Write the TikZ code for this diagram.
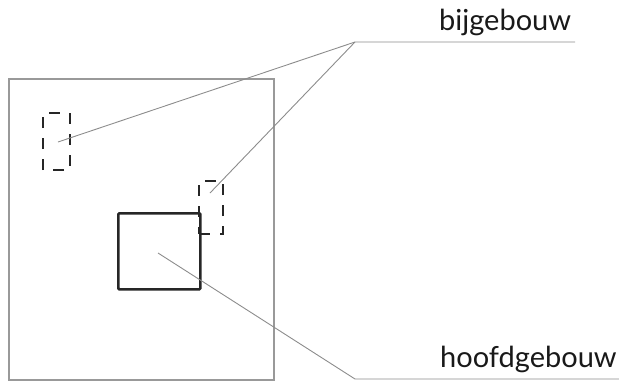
\documentclass[tikz,border=0pt]{standalone}
\usepackage{fontspec}
\setmainfont{Lato}
\begin{document}
\begin{tikzpicture}[x=1pt,y=-1pt,
  site/.style={draw=black!40, line width=1.3pt},
  leader/.style={draw=black!45, line width=0.9pt},
  building/.style={draw=black!85, line width=2.6pt, rounded corners=1pt},
  annex/.style={draw=black!85, line width=2.4pt, dash pattern=on 11pt off 10pt},
  label/.style={font=\fontsize{29}{34}\selectfont, text=black!90, inner sep=0pt, anchor=base west}]
\useasboundingbox (0,0) rectangle (619,383);

% plot boundary
\draw[site] (9,79) rectangle (274,380);

% main building
\node[building, minimum width=82pt, minimum height=76pt, inner sep=0pt, anchor=north west] (hoofd) at (117,212) {};

% annexes (dashed)
\draw[annex] (43,170) -- (43,113) -- (70,113) -- (70,170) -- cycle;
\draw[annex] (199,234) -- (223,234) -- (223,181) -- (199,181) -- cycle;

% labels
\node[label] (bij) at (439,30) {bijgebouw};
\node[label] (hoofdlbl) at (440,367) {hoofdgebouw};

% leader lines
\coordinate (elbowA) at (355,42);
\coordinate (endA) at (575,42);
\coordinate (tipA1) at (58,142);
\coordinate (tipA2) at (210,193);
\coordinate (elbowB) at (355,379);
\coordinate (endB) at (619,379);
\coordinate (tipB) at (158,253);

\draw[leader] (tipA1) -- (elbowA) -- (endA);
\draw[leader] (tipA2) -- (elbowA);
\draw[leader] (tipB) -- (elbowB) -- (endB);
\end{tikzpicture}
\end{document}
